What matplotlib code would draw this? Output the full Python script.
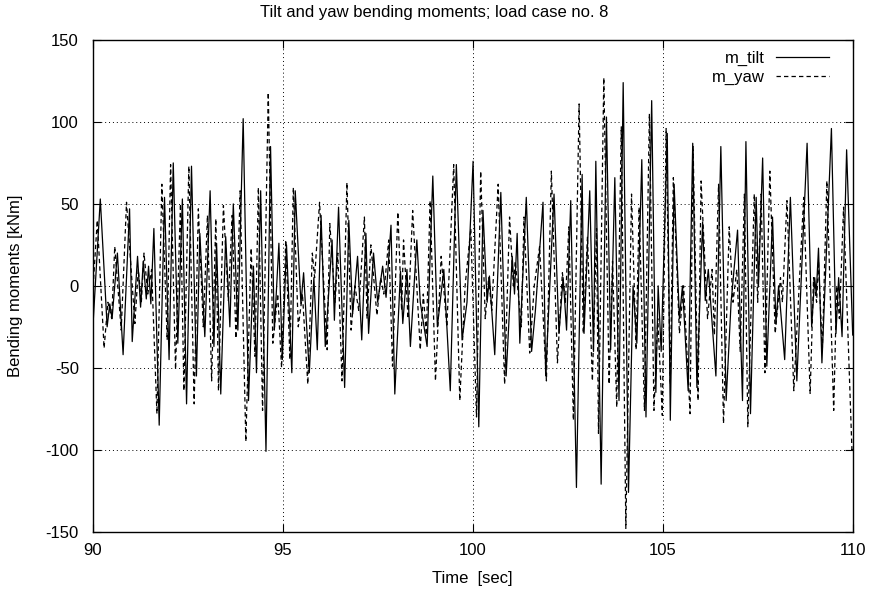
import matplotlib
matplotlib.use("Agg")
import matplotlib.pyplot as plt

plt.rcParams['font.family'] = ['Liberation Sans', 'DejaVu Sans']
plt.rcParams['axes.unicode_minus'] = False

title = "Tilt and yaw bending moments; load case no. 8"
xlabel = "Time  [sec]"
ylabel = "Bending moments [kNm]"
xticks = [90, 95, 100, 105, 110]
yticks = [-150, -100, -50, 0, 50, 100, 150]

tilt_t = [90.00, 90.20, 90.38, 90.45, 90.51, 90.65, 90.80, 90.97, 91.04, 91.18, 91.26, 91.33,
          91.41, 91.47, 91.53, 91.61, 91.75, 91.89, 92.01, 92.12, 92.24, 92.36, 92.47, 92.60,
          92.73, 92.82, 92.95, 93.09, 93.19, 93.26, 93.37, 93.50, 93.61, 93.70, 93.82, 93.96,
          94.10, 94.23, 94.31, 94.42, 94.56, 94.68, 94.78, 94.90, 94.99, 95.10, 95.24, 95.33,
          95.48, 95.55, 95.70, 95.82, 95.91, 96.01, 96.12, 96.30, 96.36, 96.47, 96.63, 96.74,
          96.84, 96.97, 97.08, 97.19, 97.26, 97.39, 97.50, 97.63, 97.72, 97.85, 97.95, 98.10,
          98.16, 98.27, 98.36, 98.53, 98.62, 98.80, 98.95, 99.07, 99.24, 99.41, 99.57, 99.72,
          99.85, 100.01, 100.16, 100.27, 100.38, 100.44, 100.58, 100.74, 100.88, 101.04, 101.10,
          101.17, 101.24, 101.41, 101.55, 101.65, 101.85, 101.92, 102.14, 102.27, 102.38, 102.47,
          102.58, 102.73, 102.88, 102.93, 103.08, 103.18, 103.24, 103.38, 103.52, 103.63, 103.74,
          103.85, 103.96, 104.10, 104.22, 104.32, 104.45, 104.56, 104.71, 104.82, 104.88, 104.96,
          105.12, 105.20, 105.30, 105.44, 105.52, 105.67, 105.79, 105.90, 106.05, 106.12, 106.20,
          106.40, 106.53, 106.67, 106.80, 106.97, 107.10, 107.19, 107.31, 107.46, 107.52, 107.63,
          107.74, 107.89, 107.98, 108.05, 108.21, 108.36, 108.53, 108.80, 108.92, 109.00, 109.04,
          109.10, 109.19, 109.44, 109.56, 109.63, 109.72, 109.84, 110.00]
tilt_v = [-27, 53, -25, -11, -20, 20, -42, 47, -34, 18, -13, 15,
          -8, 12, -11, 35, -85, 54, -45, 75, -35, 53, -72, 73,
          -55, 32, -31, 58, -37, 26, -66, 30, -25, 50, -27, 102,
          -70, 12, -53, 58, -101, 85, -27, 26, -45, 25, -53, 58,
          -11, 8, -53, 5, -39, 43, -37, 28, -21, 48, -62, 40,
          -17, 18, -33, 32, -29, 20, -10, 12, -7, 37, -66, 9,
          -23, 10, -37, 28, -10, -37, 67, -25, 10, -64, 74, -33,
          -10, 76, -86, 46, -10, 6, -42, 57, -55, 18, -5,
          32, -35, 54, -40, -15, 51, -55, 56, -29, 5, -27,
          52, -123, 68, -29, 58, -40, 76, -121, 103, -39, 66,
          -70, 124, -126, 0, -35, 77, -80, 113, -65, 0, -40,
          93, -82, 62, -20, 0, -64, 87, -62, 39, -9, 10,
          -55, 85, -70, -10, 34, -70, 88, -78, 54, 0, 78,
          -49, 42, -23, 0, -45, 54, -58, 87, -25, 5, -5,
          23, -47, 96, -29, 5, -31, 83, -30]

yaw_t = [90.00, 90.12, 90.30, 90.40, 90.50, 90.58, 90.75, 90.89, 91.11, 91.20, 91.28, 91.35,
         91.45, 91.55, 91.69, 91.82, 91.96, 92.05, 92.18, 92.31, 92.40, 92.53, 92.67, 92.78,
         92.91, 93.02, 93.13, 93.24, 93.31, 93.44, 93.57, 93.67, 93.77, 93.88, 94.03, 94.17,
         94.27, 94.36, 94.47, 94.62, 94.74, 94.87, 94.97, 95.08, 95.19, 95.28, 95.41, 95.52,
         95.66, 95.78, 95.84, 95.97, 96.17, 96.24, 96.38, 96.45, 96.56, 96.69, 96.80, 96.90,
         97.00, 97.15, 97.22, 97.32, 97.48, 97.58, 97.66, 97.79, 97.89, 98.03, 98.13, 98.18,
         98.30, 98.42, 98.62, 98.70, 98.78, 98.88, 99.02, 99.17, 99.32, 99.50, 99.66, 99.80,
         99.95, 100.10, 100.21, 100.33, 100.42, 100.50, 100.67, 100.84, 100.97, 101.07, 101.12,
         101.28, 101.35, 101.50, 101.62, 101.76, 101.94, 102.07, 102.23, 102.36, 102.44, 102.53,
         102.65, 102.80, 102.91, 103.02, 103.15, 103.26, 103.31, 103.45, 103.59, 103.68, 103.79,
         103.91, 104.03, 104.18, 104.30, 104.38, 104.52, 104.65, 104.77, 104.87, 104.99, 105.09,
         105.20, 105.28, 105.44, 105.55, 105.72, 105.80, 105.93, 106.01, 106.18, 106.30, 106.36,
         106.47, 106.60, 106.75, 106.85, 106.95, 107.04, 107.15, 107.24, 107.41, 107.50, 107.59,
         107.69, 107.82, 107.96, 108.10, 108.15, 108.27, 108.45, 108.71, 108.88, 108.97, 109.05,
         109.10, 109.20, 109.32, 109.50, 109.58, 109.65, 109.76, 109.98, 110.00]
yaw_v = [-5, 40, -38, -10, -20, 24, -27, 51, -23, 10, -10, 20,
         -5, 10, -78, 62, -33, 74, -51, 50, -64, 73, -72, 47,
         -25, 43, -58, 41, -64, 49, -9, 43, -32, 58, -95, 23,
         -43, 60, -76, 118, -35, -5, -50, 28, -45, 60, -25, -5,
         -60, 20, 5, 51, -39, 38, -10, 20, -58, 63, -27, 0,
         -15, 42, -20, 25, -18, 5, -5, 28, -49, 45, -15, 28,
         -20, 46, -39, -5, -30, 52, -58, 18, -25, 74, -70, 0,
         35, -80, 70, -20, 5, -15, 62, -60, 42, 0, 15,
         -25, 42, -41, 0, 24, -58, 70, -47, 8, -10, 36,
         -82, 111, -29, 30, -58, 35, -90, 127, -60, 15, -74,
         97, -148, 56, -39, 48, -76, 105, -76, -20, -79, 96,
         -60, 66, -29, 0, -78, 85, -70, 64, -20, 10, -30,
         62, -84, 36, -10, 10, -40, 56, -86, 56, -10, 56,
         -53, 70, -29, 5, -10, 52, -64, 54, -66, 5, -10,
         15, -40, 64, -76, 0, -20, 48, -100, -98]

W, H = 869, 590
fig = plt.figure(figsize=(W / 100, H / 100), dpi=100)
L, R, T, B = 92.7, 852.7, 40.0, 531.7
ax = fig.add_axes([L / W, 1 - B / H, (R - L) / W, (B - T) / H])

ax.plot(tilt_t, tilt_v, color='black', lw=0.9, ls='-', label='m_tilt')
ax.plot(yaw_t, yaw_v, color='black', lw=0.9, ls=(0, (3.5, 2.5)), label='m_yaw')

ax.set_xlim(90, 110)
ax.set_ylim(-150, 150)
ax.set_xticks(xticks)
ax.set_yticks(yticks)
ax.tick_params(direction='in', length=6, width=0.8, top=True, right=True, labelsize=12)
ax.tick_params(axis='y', pad=10)
ax.tick_params(axis='x', pad=8)
ax.grid(True, color='black', ls=(0, (1, 3)), lw=0.7)
for s in ax.spines.values():
    s.set_linewidth(1.0)

fig.text(0.5, 1 - 12 / H, title, ha='center', va='center', fontsize=12)
ax.set_xlabel(xlabel, fontsize=12)
ax.set_ylabel(ylabel, fontsize=12)
ax.xaxis.set_label_coords(0.5, (B - 578) / (B - T), transform=ax.transAxes)
ax.yaxis.set_label_coords((16 - L) / (R - L), 0.5, transform=ax.transAxes)
ax.xaxis.label.set_va('center')
ax.yaxis.label.set_va('center')

leg = ax.legend(loc='upper right', frameon=False, markerfirst=False, fontsize=12,
                handlelength=3.2, handletextpad=0.66, labelspacing=0.27,
                borderaxespad=0.0, borderpad=0.4,
                bbox_to_anchor=((829 + 6.7) / W, 1 - 44 / H),
                bbox_transform=fig.transFigure)
for t in leg.get_texts():
    t.set_ha('right')
leg._legend_box.align = 'right'

fig.savefig('out.png', dpi=100)
